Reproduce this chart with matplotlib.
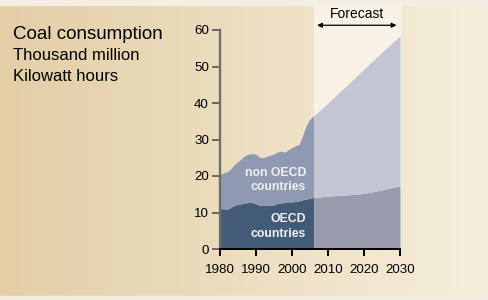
import numpy as np
import matplotlib.pyplot as plt
from matplotlib.colors import LinearSegmentedColormap

plt.rcParams['font.family'] = ['Liberation Sans', 'DejaVu Sans']

# historical data, thousand million kWh
hist_years = [1980, 1981, 1982, 1983, 1984, 1985, 1986, 1987, 1988, 1989, 1990,
              1991, 1992, 1993, 1994, 1995, 1996, 1997, 1998, 1999, 2000,
              2001, 2002, 2003, 2004, 2005, 2006]
hist_oecd = [11.1, 11.0, 10.9, 11.4, 12.0, 12.2, 12.4, 12.6, 12.8, 12.7, 12.4,
             12.0, 11.9, 12.0, 11.9, 12.1, 12.5, 12.6, 12.8, 12.9, 12.9,
             13.0, 13.2, 13.5, 13.7, 13.9, 14.1]
hist_total = [20.5, 20.8, 21.2, 22.0, 23.2, 23.9, 24.8, 25.6, 26.0, 26.1, 26.0,
              25.1, 25.0, 25.4, 25.7, 26.0, 26.6, 26.8, 26.5, 27.2, 27.8,
              28.3, 28.7, 31.2, 34.0, 35.6, 36.5]

# forecast
fc_years = [2006, 2010, 2015, 2020, 2025, 2030]
fc_oecd = [14.1, 14.5, 14.8, 15.2, 16.2, 17.3]
fc_total = [36.5, 40.0, 44.6, 49.3, 53.9, 58.4]

fig = plt.figure(figsize=(4.88, 3.0), dpi=100)

# background gradient
bg = fig.add_axes([0, 0, 1, 1], zorder=-2)
cmap = LinearSegmentedColormap.from_list('bg', ['#e3cea6', '#f6eedc'])
bg.imshow(np.linspace(0, 1, 256).reshape(1, -1), aspect='auto', cmap=cmap,
          extent=[0, 1, 0, 1])
bg.axhspan(0.983, 1.0, color='#f4eee2')
bg.axhspan(0.0, 0.012, color='#f4eee2')
bg.set_xlim(0, 1)
bg.set_ylim(0, 1)
bg.axis('off')

ax = fig.add_axes([0.4508, 0.17, 0.3689, 0.73])
ax.patch.set_alpha(0)

# lighter forecast band
ax.axvspan(2006, 2030, ymin=0, ymax=1.11, color='#f8f2e6', zorder=0, clip_on=False)

ax.fill_between(hist_years, 0, hist_oecd, color='#445b77', lw=0, zorder=2)
ax.fill_between(hist_years, hist_oecd, hist_total, color='#8f99b2', lw=0, zorder=2)
ax.fill_between(fc_years, 0, fc_oecd, color='#9a9cae', lw=0, zorder=2)
ax.fill_between(fc_years, fc_oecd, fc_total, color='#c3c5d5', lw=0, zorder=2)

ax.set_xlim(1980, 2030)
ax.set_ylim(0, 60)
ax.set_xticks([1980, 1990, 2000, 2010, 2020, 2030])
ax.set_yticks([0, 10, 20, 30, 40, 50, 60])

for s in ['top', 'right']:
    ax.spines[s].set_visible(False)
ax.spines['left'].set_color('#6e6e6e')
ax.spines['left'].set_linewidth(1.7)
ax.spines['bottom'].set_color('black')
ax.spines['bottom'].set_linewidth(1.4)
ax.spines['left'].set_zorder(5)
ax.spines['bottom'].set_zorder(5)
ax.tick_params(axis='y', length=6, width=1.2, color='#555555', labelsize=9.6, pad=2)
ax.tick_params(axis='x', length=5, width=1.4, color='black', labelsize=9.6, pad=6)

# inner labels
lab = dict(color='#f0f1f5', fontsize=8.8, fontweight='bold', ha='right',
           va='center', linespacing=1.3, zorder=4)
ax.text(2003.9, 18.9, 'non OECD\ncountries', **lab)
ax.text(2003.9, 6.1, 'OECD\ncountries', **lab)

# forecast arrow
ax.annotate('', xy=(2006.2, 61.3), xytext=(2029.8, 61.3),
            arrowprops=dict(arrowstyle='<|-|>', color='black', lw=0.9,
                            mutation_scale=7), annotation_clip=False)
ax.text(2018, 64.4, 'Forecast', ha='center', va='center', fontsize=10,
        clip_on=False)

fig.text(0.027, 0.885, 'Coal consumption', fontsize=13.5, va='center')
fig.text(0.027, 0.815, 'Thousand million', fontsize=12, va='center')
fig.text(0.027, 0.745, 'Kilowatt hours', fontsize=12, va='center')

fig.savefig('out.png', dpi=100)
